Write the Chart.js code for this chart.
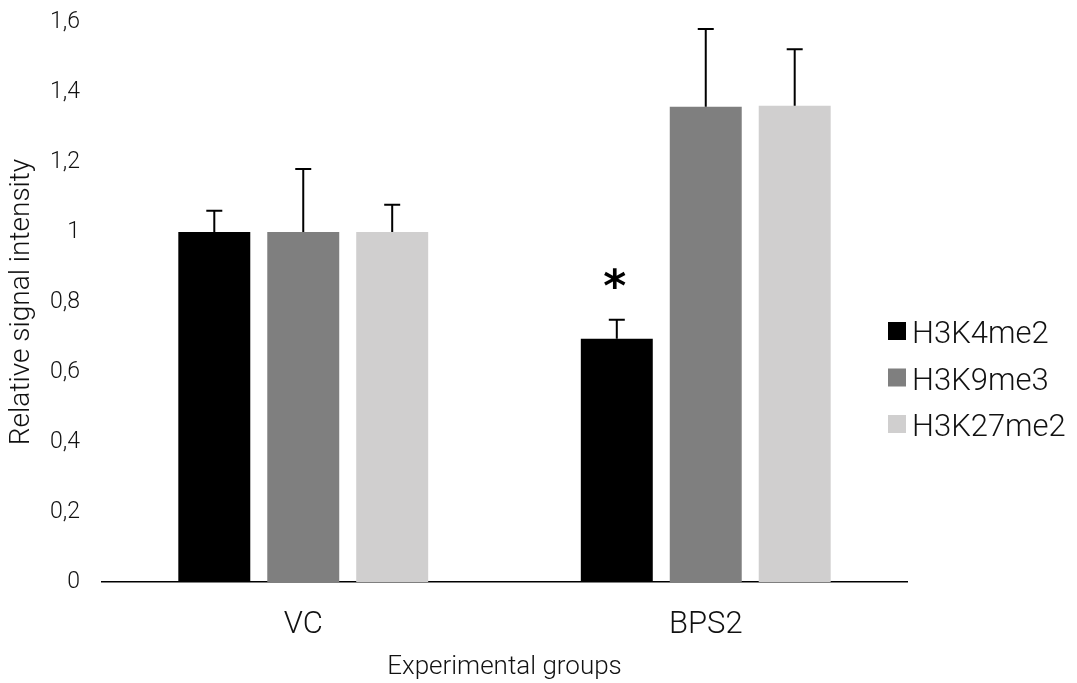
<!DOCTYPE html>
<html>
<head>
<meta charset="utf-8">
<script src="https://cdn.jsdelivr.net/npm/chart.js@4"></script>
<style>
  html, body { margin: 0; padding: 0; background: #fff; }
  #wrap { width: 1077px; height: 683px; position: relative; }
</style>
</head>
<body>
<div id="wrap"><canvas id="c" width="1077" height="683"></canvas></div>
<script>
const categories = ["VC", "BPS2"];
const seriesNames = ["H3K4me2", "H3K9me3", "H3K27me2"];
const seriesColors = ["#000000", "#7f7f7f", "#d0cfcf"];
const h3k4me2 = [1.00, 0.695];
const h3k9me3 = [1.00, 1.358];
const h3k27me2 = [1.00, 1.361];
const h3k4me2Err = [0.061, 0.054];
const h3k9me3Err = [0.180, 0.222];
const h3k27me2Err = [0.078, 0.161];
const significance = [["", "*"], ["", ""], ["", ""]];
const yTickValues = [0, 0.2, 0.4, 0.6, 0.8, 1, 1.2, 1.4, 1.6];

const FONT = "Roboto, 'Helvetica Neue', Helvetica, Arial, sans-serif";
const values = [h3k4me2, h3k9me3, h3k27me2];
const errors = [h3k4me2Err, h3k9me3Err, h3k27me2Err];

const errorBarPlugin = {
  id: 'errorBars',
  afterDatasetsDraw(chart) {
    const ctx = chart.ctx;
    const y = chart.scales.y;
    ctx.save();
    chart.data.datasets.forEach((ds, di) => {
      const meta = chart.getDatasetMeta(di);
      meta.data.forEach((bar, i) => {
        const v = ds.data[i];
        const top = y.getPixelForValue(v + errors[di][i]);
        ctx.strokeStyle = '#000';
        ctx.lineWidth = 2;
        ctx.beginPath();
        ctx.moveTo(bar.x, bar.y);
        ctx.lineTo(bar.x, top);
        ctx.moveTo(bar.x - 8, top);
        ctx.lineTo(bar.x + 8, top);
        ctx.stroke();
        const s = significance[di][i];
        if (s) {
          ctx.fillStyle = '#000';
          ctx.font = "bold 44px 'DejaVu Sans', sans-serif";
          ctx.textAlign = 'center';
          ctx.textBaseline = 'middle';
          ctx.fillText(s, bar.x - 2, top - 30);
        }
      });
    });
    ctx.restore();
  }
};

const legendPlugin = {
  id: 'customLegend',
  afterDraw(chart) {
    const ctx = chart.ctx;
    ctx.save();
    const x0 = 888, y0 = 322, rowH = 46.5, box = 18;
    chart.data.datasets.forEach((ds, i) => {
      const yy = y0 + i * rowH;
      ctx.fillStyle = ds.backgroundColor;
      ctx.fillRect(x0, yy, box, box);
      ctx.fillStyle = '#111';
      ctx.font = "300 31px " + FONT;
      ctx.textAlign = 'left';
      ctx.textBaseline = 'alphabetic';
      ctx.fillText(ds.label, x0 + 24, yy + 21);
    });
    ctx.restore();
  }
};

new Chart(document.getElementById('c'), {
  type: 'bar',
  data: {
    labels: categories,
    datasets: seriesNames.map((name, i) => ({
      label: name,
      data: values[i],
      backgroundColor: seriesColors[i],
      borderWidth: 0,
      categoryPercentage: 0.663,
      barPercentage: 0.809
    }))
  },
  options: {
    responsive: false,
    animation: false,
    devicePixelRatio: 1,
    layout: { padding: { left: 0, right: 170, top: 22, bottom: 0 } },
    plugins: { legend: { display: false }, tooltip: { enabled: false } },
    scales: {
      x: {
        grid: { display: false, drawTicks: false },
        border: { display: true, color: '#000', width: 1.5 },
        ticks: { color: '#111', font: { family: FONT, size: 31, weight: 300 }, padding: 25 },
        title: { display: true, text: 'Experimental groups', color: '#111',
                 font: { family: FONT, size: 26, weight: 300, lineHeight: 1.2 }, padding: { top: 0, bottom: 0 } },
        afterFit(scale) { scale.height = 101; scale.paddingLeft = 0; scale.paddingRight = 0; }
      },
      y: {
        min: 0, max: 1.6,
        afterBuildTicks(scale) { scale.ticks = yTickValues.map(v => ({ value: v })); },
        grid: { display: false, drawTicks: false },
        border: { display: false },
        ticks: {
          color: '#111',
          font: { family: FONT, size: 23, weight: 300 },
          padding: 22,
          callback: v => String(Number(v.toFixed(1))).replace('.', ',')
        },
        title: { display: true, text: 'Relative signal intensity', color: '#111',
                 font: { family: FONT, size: 28, weight: 300, lineHeight: 1.2 }, padding: { top: 5, bottom: 0 } },
        afterFit(scale) { scale.width = 102; scale.paddingTop = 0; scale.paddingBottom = 0; }
      }
    }
  },
  plugins: [errorBarPlugin, legendPlugin]
});
</script>
</body>
</html>
